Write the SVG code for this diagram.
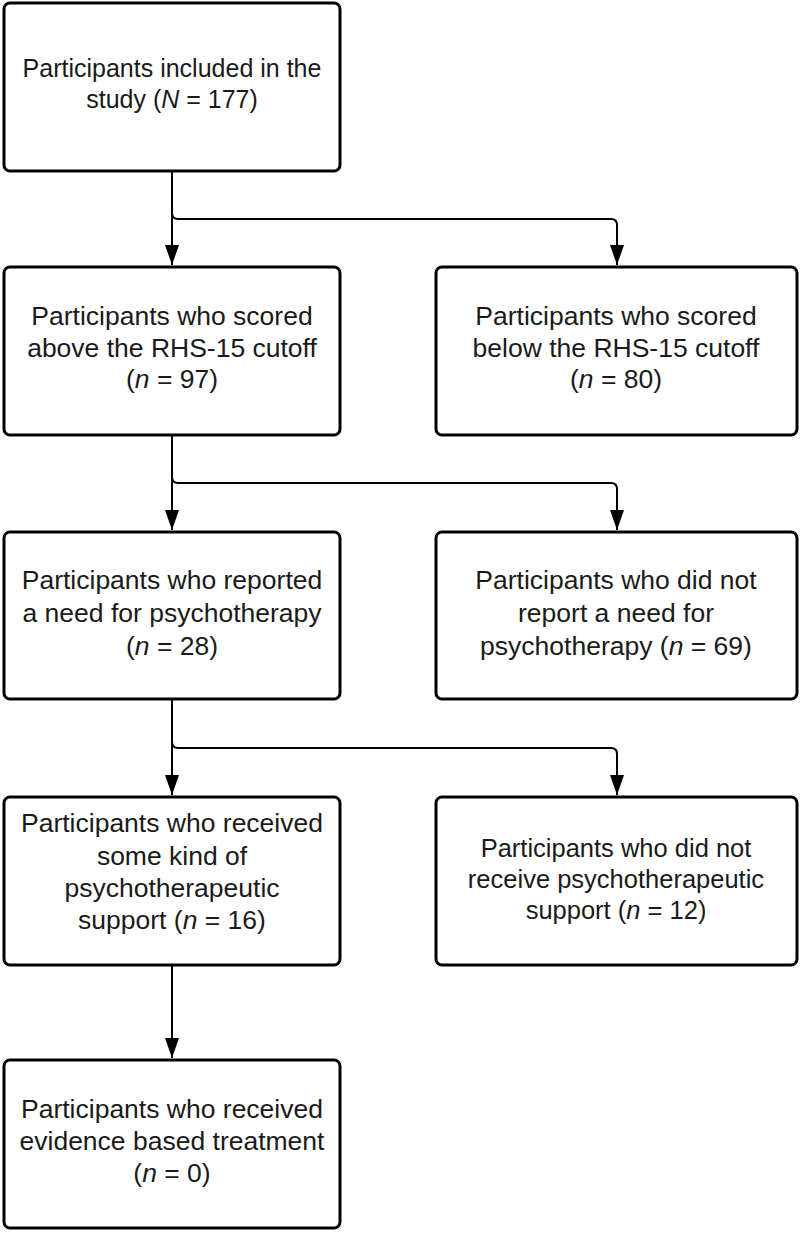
<svg xmlns="http://www.w3.org/2000/svg" width="800" height="1233" viewBox="0 0 800 1233">
<style>
.box{fill:#fff;stroke:#000;stroke-width:3}
.t{font-family:"Liberation Sans",Arial,sans-serif;font-size:26.5px;fill:#1a1a1a;text-anchor:middle}
.c{fill:none;stroke:#000;stroke-width:2}
</style>
<defs>
<marker id="ah" viewBox="0 0 20 14" refX="20" refY="7" markerWidth="20" markerHeight="14" markerUnits="userSpaceOnUse" orient="auto">
<path d="M0,0 L20,7 L0,14 z" fill="#000"/>
</marker>
</defs>
<rect width="800" height="1233" fill="#fff"/>
<g id="connectors">
<path class="c" d="M172,171 V265" marker-end="url(#ah)"/>
<path class="c" d="M172,213 Q172,219 178,219 H611 Q617,219 617,225 V265" marker-end="url(#ah)"/>
<path class="c" d="M172,435 V530" marker-end="url(#ah)"/>
<path class="c" d="M172,477 Q172,483 178,483 H611 Q617,483 617,489 V530" marker-end="url(#ah)"/>
<path class="c" d="M172,699 V795" marker-end="url(#ah)"/>
<path class="c" d="M172,742 Q172,748 178,748 H611 Q617,748 617,754 V795" marker-end="url(#ah)"/>
<path class="c" d="M172,965 V1058" marker-end="url(#ah)"/>
</g>
<g id="n1">
<rect class="box" x="4" y="3" width="336" height="168" rx="6"/>
<text class="t" x="172" y="77" style="font-size:25px">Participants included in the</text>
<text class="t" x="172" y="108" style="font-size:25px">study (<tspan font-style="italic">N</tspan> = 177)</text>
</g>
<g id="n2">
<rect class="box" x="4" y="267" width="336" height="168" rx="6"/>
<text class="t" x="172" y="325">Participants who scored</text>
<text class="t" x="172" y="357">above the RHS-15 cutoff</text>
<text class="t" x="172" y="388">(<tspan font-style="italic">n</tspan> = 97)</text>
</g>
<g id="n3">
<rect class="box" x="436" y="267" width="361" height="168" rx="6"/>
<text class="t" x="616" y="325">Participants who scored</text>
<text class="t" x="616" y="357">below the RHS-15 cutoff</text>
<text class="t" x="616" y="388">(<tspan font-style="italic">n</tspan> = 80)</text>
</g>
<g id="n4">
<rect class="box" x="4" y="532" width="336" height="167" rx="6"/>
<text class="t" x="172" y="589">Participants who reported</text>
<text class="t" x="172" y="622">a need for psychotherapy</text>
<text class="t" x="172" y="655">(<tspan font-style="italic">n</tspan> = 28)</text>
</g>
<g id="n5">
<rect class="box" x="436" y="532" width="361" height="167" rx="6"/>
<text class="t" x="616" y="589">Participants who did not</text>
<text class="t" x="616" y="622">report a need for</text>
<text class="t" x="616" y="655">psychotherapy (<tspan font-style="italic">n</tspan> = 69)</text>
</g>
<g id="n6">
<rect class="box" x="4" y="797" width="336" height="168" rx="6"/>
<text class="t" x="172" y="832">Participants who received</text>
<text class="t" x="172" y="865">some kind of</text>
<text class="t" x="172" y="897">psychotherapeutic</text>
<text class="t" x="172" y="929">support (<tspan font-style="italic">n</tspan> = 16)</text>
</g>
<g id="n7">
<rect class="box" x="436" y="797" width="361" height="168" rx="6"/>
<text class="t" x="616" y="857" style="font-size:25.5px">Participants who did not</text>
<text class="t" x="616" y="888" style="font-size:25.5px">receive psychotherapeutic</text>
<text class="t" x="616" y="919" style="font-size:25.5px">support (<tspan font-style="italic">n</tspan> = 12)</text>
</g>
<g id="n8">
<rect class="box" x="4" y="1060" width="336" height="168" rx="6"/>
<text class="t" x="172" y="1118">Participants who received</text>
<text class="t" x="172" y="1150">evidence based treatment</text>
<text class="t" x="172" y="1182">(<tspan font-style="italic">n</tspan> = 0)</text>
</g>
</svg>
